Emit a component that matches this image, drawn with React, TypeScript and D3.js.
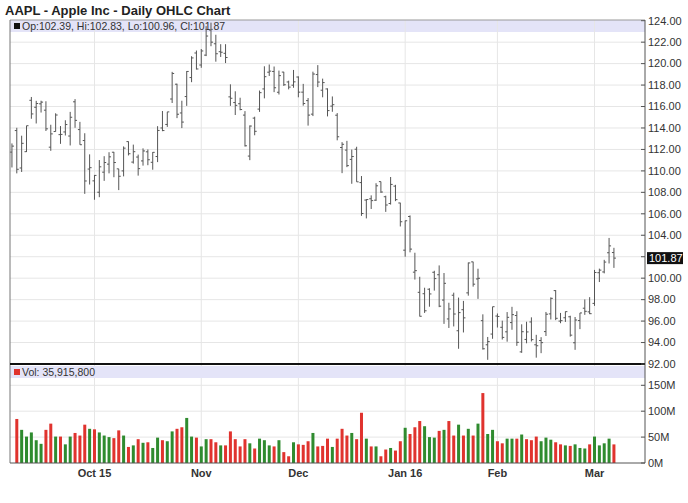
import * as d3 from "d3";

// trading days shown on the chart
const dates = [
  "2015-09-08", "2015-09-09", "2015-09-10", "2015-09-11", "2015-09-14", "2015-09-15", "2015-09-16", "2015-09-17", "2015-09-18",
  "2015-09-21", "2015-09-22", "2015-09-23", "2015-09-24", "2015-09-25", "2015-09-28", "2015-09-29", "2015-09-30",
  "2015-10-01", "2015-10-02", "2015-10-05", "2015-10-06", "2015-10-07", "2015-10-08", "2015-10-09", "2015-10-12",
  "2015-10-13", "2015-10-14", "2015-10-15", "2015-10-16", "2015-10-19", "2015-10-20", "2015-10-21", "2015-10-22",
  "2015-10-23", "2015-10-26", "2015-10-27", "2015-10-28", "2015-10-29", "2015-10-30",
  "2015-11-02", "2015-11-03", "2015-11-04", "2015-11-05", "2015-11-06", "2015-11-09", "2015-11-10", "2015-11-11",
  "2015-11-12", "2015-11-13", "2015-11-16", "2015-11-17", "2015-11-18", "2015-11-19", "2015-11-20", "2015-11-23",
  "2015-11-24", "2015-11-25", "2015-11-27", "2015-11-30",
  "2015-12-01", "2015-12-02", "2015-12-03", "2015-12-04", "2015-12-07", "2015-12-08", "2015-12-09", "2015-12-10",
  "2015-12-11", "2015-12-14", "2015-12-15", "2015-12-16", "2015-12-17", "2015-12-18", "2015-12-21", "2015-12-22",
  "2015-12-23", "2015-12-24", "2015-12-28", "2015-12-29", "2015-12-30", "2015-12-31",
  "2016-01-04", "2016-01-05", "2016-01-06", "2016-01-07", "2016-01-08", "2016-01-11", "2016-01-12", "2016-01-13",
  "2016-01-14", "2016-01-15", "2016-01-19", "2016-01-20", "2016-01-21", "2016-01-22", "2016-01-25", "2016-01-26",
  "2016-01-27", "2016-01-28", "2016-01-29",
  "2016-02-01", "2016-02-02", "2016-02-03", "2016-02-04", "2016-02-05", "2016-02-08", "2016-02-09", "2016-02-10",
  "2016-02-11", "2016-02-12", "2016-02-16", "2016-02-17", "2016-02-18", "2016-02-19", "2016-02-22", "2016-02-23",
  "2016-02-24", "2016-02-25", "2016-02-26", "2016-02-29",
  "2016-03-01", "2016-03-02", "2016-03-03", "2016-03-04", "2016-03-07",
];

const opens = [
  111.75, 113.76, 110.27, 111.79, 116.58, 115.93, 116.25, 115.66, 112.21, 113.67, 113.38, 113.63, 113.25, 116.44, 113.85, 112.83, 110.17,
  109.07, 108.01, 109.88, 110.63, 111.74, 110.19, 110.0, 112.73, 110.82, 111.29, 110.93, 111.78, 110.8, 111.34, 114.0, 114.33, 116.7, 118.08, 115.4, 116.93, 118.7, 120.99,
  119.87, 120.79, 123.13, 121.85, 121.11, 120.96, 116.9, 116.37, 116.26, 115.2, 111.38, 114.92, 115.76, 117.64, 119.2, 119.27, 117.33, 119.21, 118.29, 117.99,
  118.75, 117.34, 116.55, 115.29, 118.98, 117.52, 117.64, 116.04, 115.19, 112.18, 111.94, 111.07, 112.02, 108.91, 107.28, 107.4, 107.27, 109.0, 107.59, 106.96, 108.58, 107.01,
  102.61, 105.75, 100.56, 98.68, 98.55, 98.97, 100.55, 100.32, 97.96, 96.2, 98.41, 95.1, 97.06, 98.63, 101.52, 99.93, 96.04, 93.79, 94.79,
  96.47, 95.42, 95.0, 95.86, 96.52, 93.13, 94.29, 95.92, 93.79, 94.19, 95.02, 96.67, 98.84, 96.0, 96.31, 96.4, 93.98, 96.05, 97.2, 96.86,
  97.65, 100.51, 100.58, 102.37, 102.39,
];

const highs = [
  112.56, 114.02, 113.28, 114.21, 116.89, 116.53, 116.54, 116.49, 114.3, 115.37, 114.18, 114.72, 115.5, 116.69, 114.57, 113.51, 111.54,
  109.62, 111.01, 111.37, 111.74, 111.77, 110.19, 112.28, 112.75, 112.45, 111.52, 112.1, 112.0, 111.75, 114.17, 115.58, 115.5, 119.23, 118.13, 116.54, 119.3, 120.69, 121.22,
  121.36, 123.49, 123.82, 122.69, 121.81, 121.81, 118.07, 117.42, 116.82, 115.57, 114.24, 115.05, 117.49, 119.75, 119.92, 119.73, 119.35, 119.23, 118.41, 119.41,
  118.81, 118.11, 116.79, 119.25, 119.86, 118.6, 117.69, 116.94, 115.39, 112.68, 112.8, 111.99, 112.25, 109.52, 107.37, 107.72, 108.85, 109.0, 107.69, 109.43, 108.7, 107.03,
  105.37, 105.85, 102.37, 100.13, 99.11, 99.06, 100.69, 101.19, 100.48, 97.71, 98.65, 98.19, 97.88, 101.46, 101.53, 100.88, 96.63, 94.52, 97.34,
  96.71, 96.04, 96.84, 97.33, 96.92, 95.7, 95.94, 96.35, 94.72, 94.5, 96.85, 98.21, 98.89, 96.76, 96.9, 96.5, 96.38, 96.76, 98.02, 98.23,
  100.77, 100.89, 101.71, 103.75, 102.83,
];

const lows = [
  110.32, 109.77, 109.9, 111.76, 114.86, 114.42, 115.44, 113.72, 111.87, 113.66, 112.52, 113.3, 112.37, 114.02, 112.44, 107.86, 108.73,
  107.31, 107.55, 109.07, 109.77, 109.41, 108.21, 109.49, 111.44, 110.68, 109.56, 110.49, 110.53, 110.11, 110.82, 113.7, 114.1, 116.33, 114.92, 113.99, 116.06, 118.27, 119.45,
  119.61, 120.7, 121.62, 120.18, 120.62, 120.05, 116.06, 115.21, 115.65, 112.27, 111.0, 113.32, 115.5, 116.76, 118.85, 117.34, 117.12, 117.92, 117.6, 117.75,
  116.86, 116.08, 114.22, 115.11, 117.81, 116.86, 115.08, 115.51, 112.85, 109.79, 110.35, 108.8, 108.98, 105.81, 105.57, 106.45, 107.2, 107.95, 106.18, 106.86, 107.18, 104.82,
  102.0, 102.41, 99.87, 96.43, 96.76, 97.34, 98.84, 97.3, 95.74, 95.36, 95.5, 93.42, 94.94, 98.37, 99.21, 98.07, 93.34, 92.39, 94.35,
  95.4, 94.28, 94.08, 95.19, 93.69, 93.04, 93.93, 94.1, 92.59, 93.01, 94.61, 96.15, 96.09, 95.8, 95.92, 94.55, 93.32, 95.25, 96.58, 96.65,
  97.42, 99.64, 100.45, 101.37, 100.96,
];

const closes = [
  112.31, 110.15, 112.57, 114.21, 115.31, 116.28, 116.41, 113.92, 113.45, 115.21, 113.4, 114.32, 115.0, 114.71, 112.44, 109.06, 110.3,
  109.58, 110.38, 110.78, 111.31, 110.78, 109.5, 112.12, 111.6, 111.79, 110.21, 111.86, 111.04, 111.73, 113.77, 113.76, 115.5, 119.08, 115.28, 114.55, 119.27, 120.53, 119.5,
  121.18, 122.57, 122.0, 120.92, 121.06, 120.57, 116.77, 116.11, 115.72, 112.34, 114.18, 113.69, 117.29, 118.78, 119.3, 117.75, 118.88, 118.03, 117.81, 118.3,
  117.34, 116.28, 115.2, 119.03, 118.28, 118.23, 115.62, 116.17, 113.18, 112.48, 110.49, 111.34, 108.98, 106.03, 107.33, 107.23, 108.61, 108.03, 106.82, 108.74, 107.32, 105.26,
  105.35, 102.71, 100.7, 96.45, 96.96, 98.53, 99.96, 97.39, 99.52, 97.13, 96.66, 96.79, 96.3, 101.42, 99.44, 99.99, 93.42, 94.09, 97.34,
  96.43, 94.48, 96.35, 96.6, 94.02, 95.01, 94.99, 94.27, 93.7, 93.99, 96.64, 98.12, 96.26, 96.04, 96.88, 94.69, 96.1, 96.76, 96.91, 96.69,
  100.53, 100.75, 101.5, 103.01, 101.87,
];

// volume in millions, starts on 2015-09-09 (first price bar has no volume bar)
const volumes = [
  85, 64, 51, 59, 44, 37, 64, 76, 51, 51, 36, 51, 58, 53, 74, 66,
  65, 59, 53, 50, 48, 63, 53, 31, 34, 46, 39, 40, 29, 49, 44, 42, 61, 66, 69, 87, 51, 49,
  32, 46, 46, 40, 34, 34, 61, 46, 32, 46, 38, 28, 47, 44, 34, 32, 44, 21, 13, 40,
  36, 35, 42, 58, 32, 33, 47, 31, 47, 66, 53, 58, 46, 97, 47, 32, 32, 13, 26, 29, 24, 42,
  68, 56, 69, 81, 71, 50, 49, 62, 64, 81, 53, 74, 53, 66, 53, 76, 135, 56, 64,
  42, 38, 47, 47, 47, 55, 46, 44, 51, 42, 49, 45, 40, 36, 34, 33, 36, 29, 28, 36,
  51, 34, 38, 47, 35.9158,
];

const priceTicks = [92, 94, 96, 98, 100, 102, 104, 106, 108, 110, 112, 114, 116, 118, 120, 122, 124];
const volumeTicks = [0, 50, 100, 150];
const monthStarts = ["2015-10-01", "2015-11-02", "2015-12-01", "2016-01-04", "2016-02-01", "2016-03-01"];
const monthLabels = ["Oct 15", "Nov", "Dec", "Jan 16", "Feb", "Mar"];

const W = 688;
const H = 503;
const FONT = "'Liberation Sans', Arial, Helvetica, sans-serif";
const UP = "#2f8b2f";
const DOWN = "#e0332e";
const BAND = "#e4e4f8";
const GRID = "#e6e6e6";

export default function App() {
  const plotL = 10;
  const plotR = 645;
  const priceTop = 20;
  const priceBottom = 364;
  const volBottom = 463;

  const x = d3.scaleLinear().domain([-0.4, 130.4]).range([plotL, plotR]);
  const y = d3.scaleLinear().domain([92, 124]).range([priceBottom, 20.7]);
  const yv = d3.scaleLinear().domain([0, 150]).range([volBottom, 385.3]);

  const last = closes.length - 1;
  const f2 = d3.format(".2f");
  const legend = `Op:${f2(opens[last])}, Hi:${f2(highs[last])}, Lo:${f2(lows[last])}, Cl:${f2(closes[last])}`;
  const volLegend = `Vol: ${d3.format(",")(Math.round(volumes[volumes.length - 1] * 1e6))}`;
  const volOffset = dates.length - volumes.length;
  const isUp = (i: number) => (i === 0 ? closes[i] >= opens[i] : closes[i] >= closes[i - 1]);
  const monthX = monthStarts.map((d) => x(dates.indexOf(d)));

  return (
    <svg
      width={W}
      height={H}
      style={{ position: "absolute", left: 0, top: 0, background: "#fff" }}
      fontFamily={FONT}
    >
      <rect width={W} height={H} fill="#fff" />
      <text x={5} y={15} fontSize={13} fontWeight="bold" fill="#222">
        AAPL - Apple Inc - Daily OHLC Chart
      </text>

      {/* price panel */}
      <rect x={plotL} y={priceTop} width={plotR - plotL} height={12} fill={BAND} />
      {priceTicks.slice(0, -1).map((t) => (
        <line key={t} x1={plotL} x2={plotR} y1={y(t)} y2={y(t)} stroke={GRID} />
      ))}
      {monthX.map((mx, i) => (
        <line key={i} x1={mx} x2={mx} y1={priceTop} y2={volBottom} stroke={GRID} />
      ))}
      <rect x={14} y={23} width={6} height={6} fill="#111" />
      <text x={22} y={30} fontSize={10.5} fill="#333">
        {legend}
      </text>

      <g stroke="#555" strokeWidth={1}>
        {dates.map((d, i) => {
          const cx = x(i);
          return (
            <g key={d}>
              <line x1={cx} x2={cx} y1={y(highs[i])} y2={y(lows[i])} />
              <line x1={cx - 2} x2={cx} y1={y(opens[i])} y2={y(opens[i])} />
              <line x1={cx} x2={cx + 2} y1={y(closes[i])} y2={y(closes[i])} />
            </g>
          );
        })}
      </g>

      {/* volume panel */}
      <rect x={plotL} y={366} width={plotR - plotL} height={12} fill={BAND} />
      {volumeTicks.slice(1).map((t) => (
        <line key={t} x1={plotL} x2={plotR} y1={yv(t)} y2={yv(t)} stroke={GRID} />
      ))}
      <rect x={14} y={369} width={6} height={6} fill={DOWN} />
      <text x={22} y={376} fontSize={10.5} fill="#333">
        {volLegend}
      </text>
      {volumes.map((v, j) => {
        const i = j + volOffset;
        return (
          <rect
            key={dates[i]}
            x={x(i) - 1.5}
            y={yv(v)}
            width={3}
            height={volBottom - yv(v)}
            fill={isUp(i) ? UP : DOWN}
          />
        );
      })}

      {/* frame */}
      <line x1={plotL} x2={plotR} y1={priceTop} y2={priceTop} stroke="#999" />
      <line x1={plotL} x2={plotL} y1={priceTop} y2={volBottom} stroke="#777" />
      <line x1={plotR} x2={plotR} y1={priceTop} y2={volBottom} stroke="#555" />
      <line x1={plotL} x2={plotR} y1={priceBottom} y2={priceBottom} stroke="#111" strokeWidth={2} />
      <line x1={plotL} x2={plotR} y1={volBottom} y2={volBottom} stroke="#555" />

      {/* right axes */}
      <g fontSize={11} fill="#333">
        {priceTicks.map((t) => (
          <g key={t}>
            <line x1={plotR - 4} x2={plotR} y1={y(t)} y2={y(t)} stroke="#555" />
            <text x={648} y={y(t)} dy="0.35em">
              {f2(t)}
            </text>
          </g>
        ))}
        {volumeTicks.map((t) => (
          <g key={t}>
            <line x1={plotR - 4} x2={plotR} y1={yv(t)} y2={yv(t)} stroke="#555" />
            <text x={648} y={yv(t)} dy="0.35em">
              {`${t}M`}
            </text>
          </g>
        ))}
      </g>
      <rect x={647} y={y(closes[last]) - 6} width={36} height={12} fill="#111" />
      <text x={649} y={y(closes[last])} dy="0.35em" fontSize={11} fill="#fff">
        {f2(closes[last])}
      </text>

      {/* x axis */}
      {monthX.map((mx, i) => (
        <text key={i} x={mx} y={477} textAnchor="middle" fontSize={11} fontWeight="bold" fill="#333">
          {monthLabels[i]}
        </text>
      ))}
    </svg>
  );
}
